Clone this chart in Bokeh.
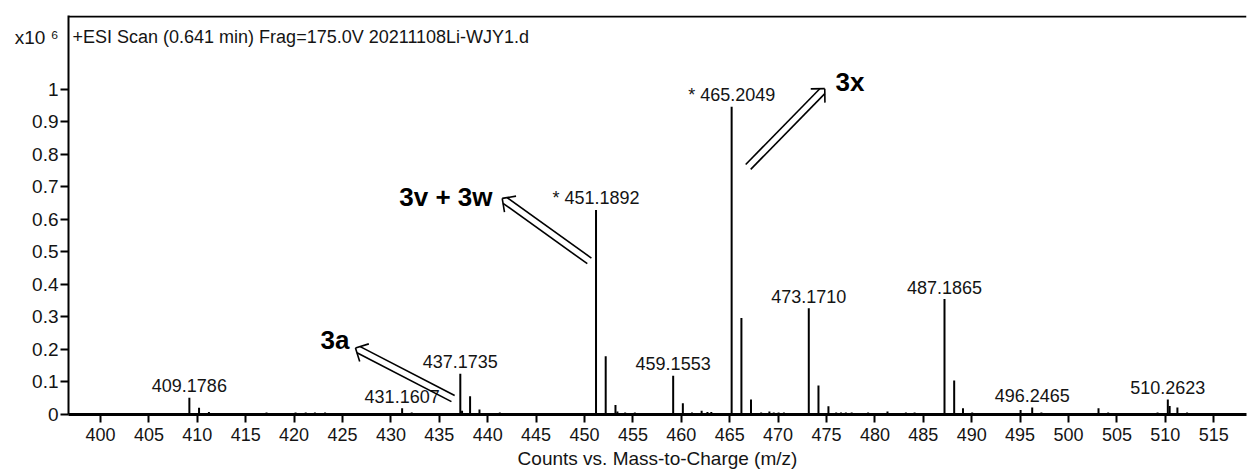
import numpy as np
from bokeh.plotting import figure
from bokeh.models import (Range1d, FixedTicker, Label, Span, LinearAxis,
                          CustomJSTickFormatter)
from bokeh.embed import file_html
from bokeh.resources import INLINE
from bokeh.core.properties import value

# ---------------- data ----------------
peak_mz = [409.18, 410.18, 411.2, 417.15, 420.15, 421.2, 422.15, 423.2,
           431.16, 432.15, 437.17, 437.35, 438.18, 439.15, 441.25,
           451.19, 452.19, 453.2, 453.4, 454.2, 455.2,
           459.16, 460.16, 461.1, 462.1, 462.7, 463.1,
           465.20, 466.21, 467.2, 468.25, 469.1, 469.55, 470.05, 470.6,
           473.17, 474.17, 475.2, 476.0, 476.5, 477.0, 477.6, 479.3, 481.3, 483.2, 484.1,
           487.19, 488.19, 489.1, 490.05,
           495.05, 496.25, 497.2,
           503.1, 504.1,
           509.2, 510.26, 510.45, 511.25, 512.25]
peak_int = [0.050, 0.019, 0.006, 0.005, 0.005, 0.005, 0.005, 0.005,
            0.018, 0.005, 0.124, 0.010, 0.055, 0.014, 0.005,
            0.628, 0.178, 0.028, 0.008, 0.005, 0.005,
            0.118, 0.033, 0.005, 0.010, 0.006, 0.006,
            0.946, 0.296, 0.045, 0.005, 0.008, 0.005, 0.005, 0.005,
            0.326, 0.088, 0.024, 0.005, 0.005, 0.005, 0.005, 0.005, 0.008, 0.005, 0.005,
            0.354, 0.103, 0.018, 0.005,
            0.012, 0.020, 0.005,
            0.018, 0.005,
            0.005, 0.045, 0.025, 0.020, 0.005]

label_mz = [409.1786, 431.1607, 437.1735, 451.1892, 459.1553,
            465.2049, 473.1710, 487.1865, 496.2465, 510.2623]
label_int = [0.050, 0.018, 0.124, 0.628, 0.118,
             0.946, 0.326, 0.354, 0.020, 0.045]
label_text = ["409.1786", "431.1607", "437.1735", "* 451.1892", "459.1553",
              "* 465.2049", "473.1710", "487.1865", "496.2465", "510.2623"]

x_ticks = [400, 405, 410, 415, 420, 425, 430, 435, 440, 445, 450, 455,
           460, 465, 470, 475, 480, 485, 490, 495, 500, 505, 510, 515]
y_ticks = [0, 0.1, 0.2, 0.3, 0.4, 0.5, 0.6, 0.7, 0.8, 0.9, 1]
y_scale_label = "x10 \u2076"

title_text = "+ESI Scan (0.641 min) Frag=175.0V 20211108Li-WJY1.d"
x_label_text = "Counts vs. Mass-to-Charge (m/z)"

anno_text = ["3x", "3v + 3w", "3a"]

# ---------------- layout constants ----------------
X0, X1 = 396.694, 518.388
Y0, Y1 = -0.0015, 1.2273
SCALE_Y = 1.160          # where the "x10^6" multiplier sits
W, H = 1247, 471
ML, MR, MT, MB = 68, 1, 15, 56
FW = W - ML - MR
FH = H - MT - MB
SX = FW / (X1 - X0)
SY = FH / (Y1 - Y0)

FONT = "Liberation Sans"
TXT = "#141414"

p = figure(width=W, height=H, output_backend="svg", toolbar_location=None,
           x_range=Range1d(X0, X1), y_range=Range1d(Y0, Y1),
           min_border_left=ML, min_border_right=MR,
           min_border_top=MT, min_border_bottom=MB)
p.grid.visible = False
p.outline_line_color = None
p.background_fill_color = "white"
p.border_fill_color = "white"

# x axis
xa = p.xaxis[0]
xa.ticker = FixedTicker(ticks=x_ticks)
xa.major_tick_out = 8
xa.major_tick_in = 0
xa.minor_tick_line_color = None
xa.axis_line_width = 3
xa.axis_line_color = "black"
xa.major_tick_line_width = 2
xa.major_tick_line_color = "black"
xa.major_label_text_font = FONT
xa.major_label_text_font_size = "18px"
xa.major_label_text_color = TXT
xa.major_label_standoff = 5
xa.axis_label = x_label_text
xa.axis_label_text_font = FONT
xa.axis_label_text_font_size = "19px"
xa.axis_label_text_font_style = "normal"
xa.axis_label_text_color = TXT
xa.axis_label_standoff = 4

# inner y axis: line + tick marks only
ya = p.yaxis[0]
ya.ticker = FixedTicker(ticks=y_ticks)
ya.formatter = CustomJSTickFormatter(code="return '';")
ya.major_tick_out = 8
ya.major_tick_in = 0
ya.minor_tick_line_color = None
ya.axis_line_width = 2
ya.axis_line_color = "black"
ya.major_tick_line_width = 2
ya.major_tick_line_color = "black"
ya.major_label_standoff = 0

# outer y axis: the tick labels and the x10^6 multiplier
ya2 = LinearAxis(ticker=FixedTicker(ticks=y_ticks + [SCALE_Y]),
                 formatter=CustomJSTickFormatter(
                     args=dict(lim=1.05, sc=y_scale_label),
                     code="if (tick > lim) { return sc; } return String(Math.round(tick*10)/10);"))
ya2.axis_line_color = None
ya2.major_tick_line_color = None
ya2.minor_tick_line_color = None
ya2.major_tick_out = 0
ya2.major_tick_in = 0
ya2.major_label_standoff = 2
ya2.major_label_text_font = FONT
ya2.major_label_text_font_size = "19px"
ya2.major_label_text_color = TXT
p.add_layout(ya2, "left")

# top border line
p.add_layout(Span(location=Y1 - 1.0 / SY, dimension="width",
                  line_color="black", line_width=2))

# peaks
p.segment(x0=peak_mz, y0=[0] * len(peak_mz), x1=peak_mz, y1=peak_int,
          line_color="black", line_width=2, line_cap="butt")

# peak labels
p.text(x=label_mz, y=label_int, text=label_text,
       text_font=value(FONT), text_font_size="18px", text_color=TXT,
       text_align="center", text_baseline="alphabetic", y_offset=-12)

# annotation texts
anno_x = [475.93, 440.50, 425.72]
anno_y = [1.024, 0.668, 0.2287]
anno_align = ["left", "right", "right"]
p.text(x=anno_x, y=anno_y, text=anno_text, text_font=value(FONT),
       text_font_style="bold", text_font_size="26px", text_color="black",
       text_align=anno_align, text_baseline="middle")

# hollow double-line arrows
arrow_tail_x = [466.91, 450.50, 436.42]
arrow_tail_y = [0.761, 0.4716, 0.0476]
arrow_tip_x = [474.82, 441.50, 426.34]
arrow_tip_y = [1.002, 0.664, 0.203]

xs, ys = [], []
d, L, c = 3.5, 14.0, np.cos(np.pi / 4)
for tx, ty, hx, hy in zip(arrow_tail_x, arrow_tail_y, arrow_tip_x, arrow_tip_y):
    T = np.array([(tx - X0) * SX, (ty - Y0) * SY])
    P = np.array([(hx - X0) * SX, (hy - Y0) * SY])
    u = (P - T) / np.linalg.norm(P - T)
    n = np.array([-u[1], u[0]])
    segs = [
        (T + d * n, P - d * u + d * n),
        (T - d * n, P - d * u - d * n),
        (P, P + L * (-u * c + n * c)),
        (P, P + L * (-u * c - n * c)),
    ]
    for a, b in segs:
        xs.append([a[0] / SX + X0, b[0] / SX + X0])
        ys.append([a[1] / SY + Y0, b[1] / SY + Y0])
p.multi_line(xs=xs, ys=ys, line_color="black", line_width=1.6)

# title text inside the frame
p.add_layout(Label(x=397.11, y=1.1598, text=title_text, text_font=FONT,
                   text_font_size="18px", text_color=TXT,
                   text_baseline="middle", text_align="left"))

open("out.html", "w").write(file_html(p, INLINE))
